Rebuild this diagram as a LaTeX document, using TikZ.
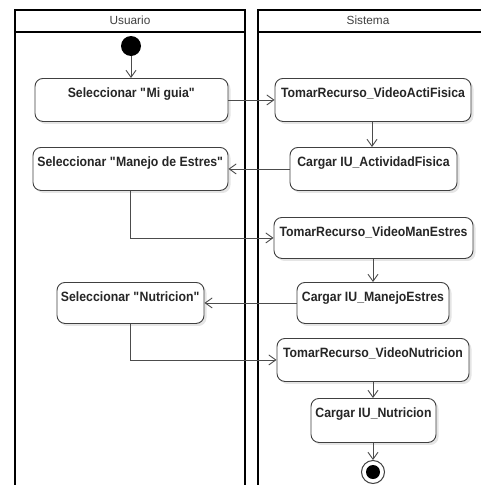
\documentclass[tikz,border=0pt]{standalone}
\usepackage{fontspec}
\setmainfont{Liberation Sans}
\newfontfamily\actfont[FakeStretch=0.91]{Liberation Sans}
\usetikzlibrary{arrows.meta,shadows}
\begin{document}
\begin{tikzpicture}[x=1pt,y=-1pt,
  lane/.style={line width=1.8pt,draw=black},
  lanetitle/.style={font=\fontsize{11.8}{13}\selectfont,text=black!75},
  act/.style={draw=black!75,line width=0.9pt,rounded corners=8pt,fill=white,
    inner xsep=2pt,inner ysep=0pt,text height=19pt,text depth=#1,
    font=\actfont\fontsize{13.5}{15}\selectfont\bfseries,text=black!85,
    drop shadow={shadow xshift=2.5pt,shadow yshift=-2.5pt,fill=black,opacity=0.10}},
  act/.default=24pt,
  flow/.style={draw=black!70,line width=0.9pt,-{Straight Barb[length=7pt,width=10pt]}},
  initial/.style={circle,fill=black,minimum size=20pt,inner sep=0pt},
  final/.style={circle,draw=black!75,line width=1pt,fill=white,minimum size=23pt,inner sep=0pt}]

\useasboundingbox (0,0) rectangle (481,485);
\fill[white] (0,0) rectangle (481,485);

% swimlanes
\draw[lane] (15,490) -- (15,10) -- (245,10) -- (245,490);
\draw[lane] (15,32) -- (245,32);
\draw[lane] (258,490) -- (258,10) -- (490,10);
\draw[lane] (258,32) -- (490,32);
\node[lanetitle] (tuser) at (130,20.5) {Usuario};
\node[lanetitle] (tsys) at (368,20.5) {Sistema};

% start and end
\node[initial] (start) at (131,46) {};
\node[final] (stop) at (373,472) {};
\fill[black] (stop.center) circle (7);

% activities
\node[act,minimum width=193pt] (miguia) at (131.5,78) [anchor=north] {Seleccionar \textquotedbl Mi guia\textquotedbl};
\node[act,minimum width=196pt] (vacti) at (373,78) [anchor=north] {TomarRecurso\_VideoActiFisica};
\node[act,minimum width=167pt] (cacti) at (373.5,147) [anchor=north] {Cargar IU\_ActividadFisica};
\node[act,minimum width=195pt] (manejo) at (130.5,147) [anchor=north] {Seleccionar \textquotedbl Manejo de Estres\textquotedbl};
\node[act=22pt,minimum width=199pt] (vman) at (373.5,217) [anchor=north] {TomarRecurso\_VideoManEstres};
\node[act=22pt,minimum width=152pt] (cman) at (373,282) [anchor=north] {Cargar IU\_ManejoEstres};
\node[act=22pt,minimum width=147pt] (nutri) at (130.5,282) [anchor=north] {Seleccionar \textquotedbl Nutricion\textquotedbl};
\node[act,minimum width=192pt] (vnut) at (373,338) [anchor=north] {TomarRecurso\_VideoNutricion};
\node[act=25pt,minimum width=125pt] (cnut) at (373.5,398) [anchor=north] {Cargar IU\_Nutricion};

% control flow
\draw[flow] (start) -- (start |- miguia.north);
\draw[flow] (miguia.east) -- (vacti.west);
\draw[flow] (vacti.south -| 372,0) -- (cacti.north -| 372,0);
\draw[flow] (cacti.west) -- (manejo.east);
\draw[flow] (manejo.south) |- (vman.west);
\draw[flow] (vman.south -| 373,0) -- (cman.north -| 373,0);
\draw[flow] (cman.west) -- (nutri.east);
\draw[flow] (nutri.south) |- (vnut.west);
\draw[flow] (vnut.south -| 373,0) -- (cnut.north -| 373,0);
\draw[flow] (cnut.south -| 373,0) -- (stop.north);
\end{tikzpicture}
\end{document}
